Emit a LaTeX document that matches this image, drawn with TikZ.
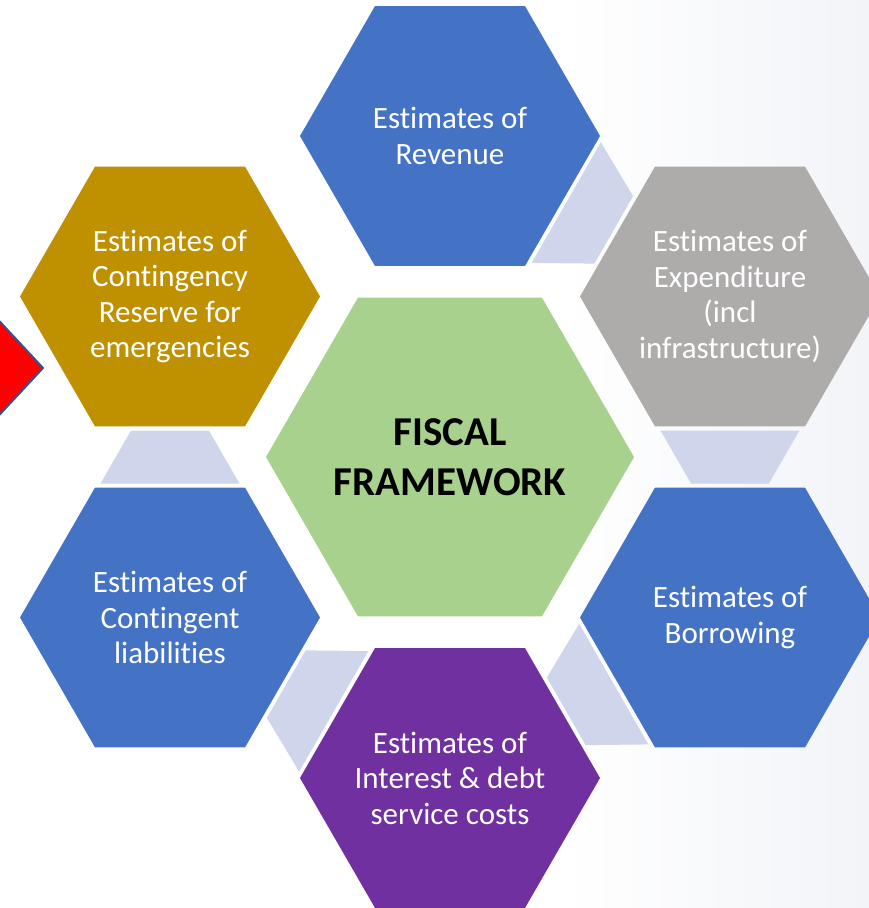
\documentclass[tikz,border=0pt]{standalone}
\usepackage{fontspec}
\setmainfont{Carlito}[Ligatures=NoCommon]
\usetikzlibrary{shapes.geometric,calc}
\definecolor{hexblue}{HTML}{4472C4}
\definecolor{hexgrey}{HTML}{AEABAB}
\definecolor{hexgold}{HTML}{BF9000}
\definecolor{hexgreen}{HTML}{A9D18E}
\definecolor{hexpurple}{HTML}{7030A0}
\definecolor{connlav}{HTML}{CFD5EA}
\definecolor{arrowblue}{HTML}{2F5597}
\definecolor{bgright}{HTML}{F2F4F8}
\tikzset{
  hexbox/.style={regular polygon, regular polygon sides=6, minimum size=300pt,
    inner sep=0pt, outer sep=0pt},
  hexcenter/.style={hexbox, minimum size=368pt},
  hextext/.style={text=white, align=center, inner sep=0pt,
    font=\fontsize{31}{35.5}\selectfont},
  centertext/.style={text=black, align=center, inner sep=0pt,
    font=\fontsize{41}{50}\selectfont\bfseries},
  connshape/.style={fill=connlav}
}
\newcommand\hexconn[2]{%
  \path ($(#1)!134pt!(#2)$) coordinate (cw) ($(#2)!134pt!(#1)$) coordinate (cn);
  \fill[connshape] ($(cw)!69.5pt!90:(#2)$) -- ($(cw)!69.5pt!-90:(#2)$)
    -- ($(cn)!38.9pt!90:(#1)$) -- ($(cn)!38.9pt!-90:(#1)$) -- cycle;}
\begin{document}
\begin{tikzpicture}[x=1pt,y=1pt]
\useasboundingbox (0,0) rectangle (869,-908);
\clip (0,0) rectangle (869,-908);
\fill[white] (0,0) rectangle (869,-908);
\shade[left color=white, right color=bgright] (560,0) rectangle (869,-908);
% red arrow head
\filldraw[fill=red, draw=arrowblue, line width=2pt] (-10,-311) -- (43,-368) -- (-10,-425);
% hexagons
\node[hexcenter, fill=hexgreen] (ff) at (450,-457) {};
\node[hexbox, fill=hexblue] (rev) at (450,-136) {};
\node[hexbox, fill=hexgrey] (exp) at (730,-296.5) {};
\node[hexbox, fill=hexblue] (bor) at (730,-617.5) {};
\node[hexbox, fill=hexpurple] (int) at (450,-778) {};
\node[hexbox, fill=hexblue] (lia) at (170,-617.5) {};
\node[hexbox, fill=hexgold] (res) at (170,-296.5) {};
% texts
\node[centertext] (fft) at (ff) {FISCAL\\FRAMEWORK};
\node[hextext] (revt) at (rev) {Estimates of\\Revenue};
\node[hextext] (expt) at (exp) {Estimates of\\Expenditure\\(incl\\infrastructure)};
\node[hextext] (bort) at (bor) {Estimates of\\Borrowing};
\node[hextext] (intt) at (int) {Estimates of\\Interest \& debt\\service costs};
\node[hextext] (liat) at (lia) {Estimates of\\Contingent\\liabilities};
\node[hextext] (rest) at (res) {Estimates of\\Contingency\\Reserve for\\emergencies};
% connectors
\hexconn{rev}{exp}
\hexconn{exp}{bor}
\hexconn{bor}{int}
\hexconn{int}{lia}
\hexconn{lia}{res}
\end{tikzpicture}
\end{document}
